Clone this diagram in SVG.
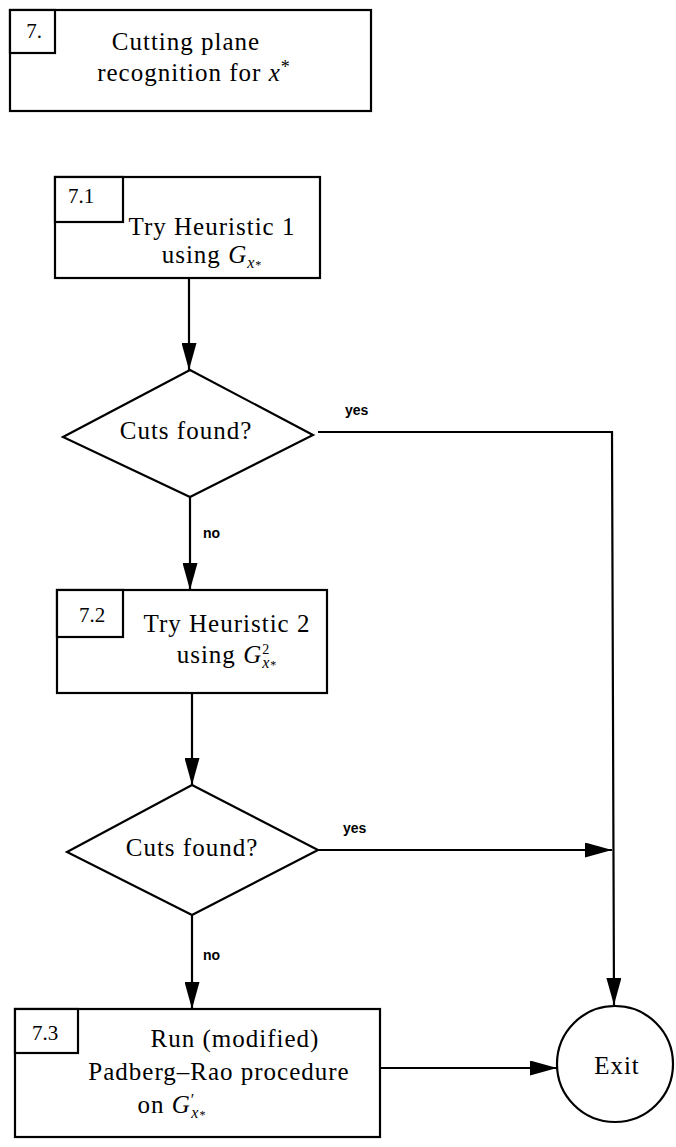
<svg xmlns="http://www.w3.org/2000/svg" width="676" height="1147" viewBox="0 0 676 1147">
<style>
.box{fill:#fff;stroke:#000;stroke-width:2.2}
.t{font-family:"Liberation Serif",serif;font-size:25px;letter-spacing:1px;text-anchor:middle;fill:#000}
.lbl{font-family:"Liberation Serif",serif;font-size:21px;text-anchor:middle;fill:#000}
.yn{font-family:"Liberation Sans",sans-serif;font-size:14px;font-weight:bold;fill:#000}
.c{fill:none;stroke:#000;stroke-width:2.2}
.i{font-style:italic}
</style>
<defs>
<marker id="ah" markerUnits="userSpaceOnUse" markerWidth="27" markerHeight="15" refX="27" refY="7.5" orient="auto">
<path d="M0,0 L27,7.5 L0,15 z" fill="#000"/>
</marker>
</defs>
<rect width="676" height="1147" fill="#fff"/>
<g id="connectors">
<line class="c" x1="189" y1="278" x2="189" y2="370" marker-end="url(#ah)"/>
<polyline class="c" points="318,432 612,432 614,1005" marker-end="url(#ah)"/>
<line class="c" x1="190" y1="497" x2="190" y2="590" marker-end="url(#ah)"/>
<line class="c" x1="192" y1="693" x2="192" y2="785" marker-end="url(#ah)"/>
<line class="c" x1="318" y1="850" x2="612" y2="850" marker-end="url(#ah)"/>
<line class="c" x1="192" y1="915" x2="192" y2="1009" marker-end="url(#ah)"/>
<line class="c" x1="380" y1="1068" x2="557" y2="1068" marker-end="url(#ah)"/>
<text class="yn" x="345" y="415">yes</text>
<text class="yn" x="203" y="538">no</text>
<text class="yn" x="343" y="833">yes</text>
<text class="yn" x="203" y="960">no</text>
</g>
<g id="n7">
<rect class="box" x="10" y="10" width="361" height="101"/>
<rect class="box" x="10" y="10" width="45" height="43"/>
<text class="lbl" x="34" y="38">7.</text>
<text class="t" x="186" y="50">Cutting plane</text>
<text class="t" x="194" y="81">recognition for <tspan class="i">x</tspan><tspan font-size="18" dy="-8">*</tspan></text>
</g>
<g id="n71">
<rect class="box" x="55" y="177" width="265" height="101"/>
<rect class="box" x="55" y="177" width="68" height="45"/>
<text class="lbl" x="81" y="203">7.1</text>
<text class="t" x="212" y="235">Try Heuristic 1</text>
<text class="t" x="212" y="263">using <tspan class="i">G</tspan><tspan class="i" font-size="16" dy="5">x</tspan><tspan font-size="12" dy="1">*</tspan></text>
</g>
<g id="d1">
<polygon class="box" points="190,370 313,435 190,497 63,437"/>
<text class="t" x="186" y="439">Cuts found?</text>
</g>
<g id="n72">
<rect class="box" x="57" y="590" width="270" height="103"/>
<rect class="box" x="57" y="590" width="66" height="47"/>
<text class="lbl" x="92" y="622">7.2</text>
<text class="t" x="227" y="632">Try Heuristic 2</text>
<text class="t" x="227" y="663">using <tspan class="i">G</tspan><tspan font-size="14" dy="-9">2</tspan><tspan class="i" font-size="16" dx="-8" dy="14">x</tspan><tspan font-size="12" dy="1">*</tspan></text>
</g>
<g id="d2">
<polygon class="box" points="192,785 318,850 192,915 67,852"/>
<text class="t" x="192" y="856">Cuts found?</text>
</g>
<g id="n73">
<rect class="box" x="15" y="1009" width="365" height="128"/>
<rect class="box" x="15" y="1009" width="63" height="44"/>
<text class="lbl" x="45" y="1040">7.3</text>
<text class="t" x="235" y="1047">Run (modified)</text>
<text class="t" x="219" y="1080">Padberg–Rao procedure</text>
<text class="t" x="172" y="1113">on <tspan class="i">G</tspan><tspan font-size="16" dy="-8">′</tspan><tspan class="i" font-size="16" dx="-4" dy="13">x</tspan><tspan font-size="12" dy="1">*</tspan></text>
</g>
<g id="exit">
<circle class="box" cx="615" cy="1064" r="58"/>
<text class="t" x="617" y="1074" font-size="26">Exit</text>
</g>
</svg>
